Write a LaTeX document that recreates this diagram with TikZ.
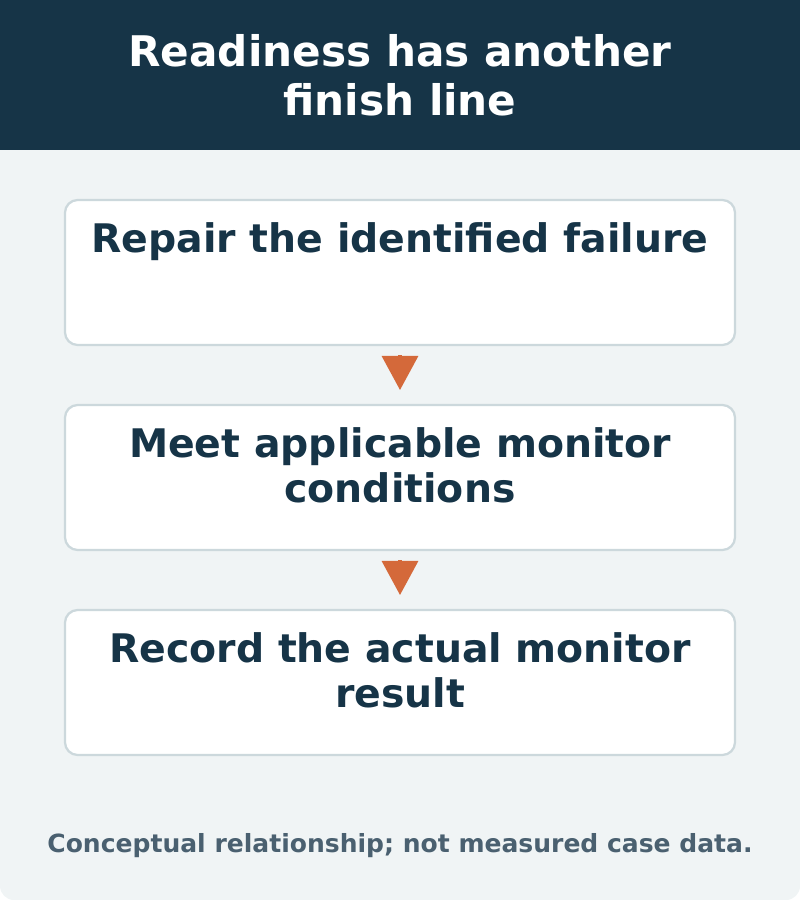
\documentclass[tikz,border=0pt]{standalone}
\usepackage{fontspec}
\setmainfont{DejaVu Sans}
\usetikzlibrary{positioning,arrows.meta}
\definecolor{navy}{HTML}{163447}
\definecolor{paper}{HTML}{F0F4F5}
\definecolor{edge}{HTML}{CCD8DC}
\definecolor{rust}{HTML}{D4693A}
\definecolor{note}{HTML}{4A6070}
\tikzset{
stepbox/.style={draw=edge, line width=1.6pt, fill=white, rounded corners=9pt},
steptext/.style={anchor=north, align=center, text=navy,
  font=\bfseries\fontsize{28}{32}\selectfont},
flow/.style={-{Triangle[length=0.85cm, width=0.9cm]}, rust, line width=2.2pt,
  shorten >=0.375cm, shorten <=0.25cm},
}
\begin{document}
\begin{tikzpicture}[x=0.025cm, y=-0.025cm]
        \useasboundingbox (0,0) rectangle (800,900);
        \fill[paper, rounded corners=10pt] (0,0) rectangle (800,900);
        \fill[navy] (0,0) rectangle (800,150);
        \node[text=white, align=center, font=\bfseries\fontsize{30}{35}\selectfont] (title) at (400,75) {Readiness has another\\finish line};

        \draw[stepbox] (65,200) rectangle (735,345);
        \draw[stepbox] (65,405) rectangle (735,550);
        \draw[stepbox] (65,610) rectangle (735,755);
        \coordinate (b1) at (400,345);
        \coordinate (t2) at (400,405);
        \coordinate (b2) at (400,550);
        \coordinate (t3) at (400,610);

        \node[steptext] (repair) at (400,218) {Repair the identified failure};
        \node[steptext] (meet) at (400,423) {Meet applicable monitor\\conditions};
        \node[steptext] (record) at (400,628) {Record the actual monitor\\result};

        \draw[flow] (b1) -- (t2);
        \draw[flow] (b2) -- (t3);

        \node[text=note, font=\bfseries\fontsize{17.8}{20}\selectfont] (caption) at (400,846) {Conceptual relationship; not measured case data.};
    \end{tikzpicture}
\end{document}
